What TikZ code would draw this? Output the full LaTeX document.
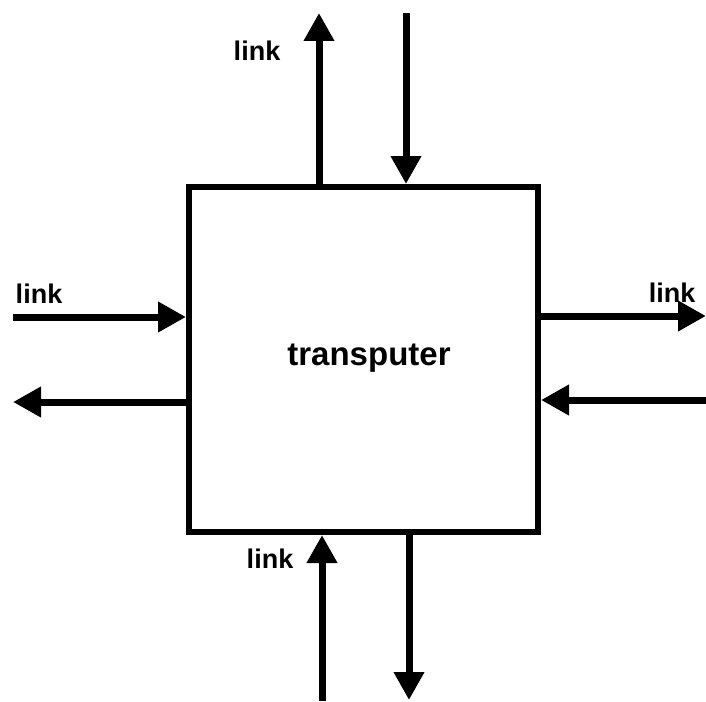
\documentclass[tikz,border=0pt]{standalone}
\usepackage{fontspec}
\setmainfont{Liberation Sans}
\usetikzlibrary{arrows.meta}
\begin{document}
\begin{tikzpicture}[x=1pt,y=-1pt,
  boxstyle/.style={draw,line width=6pt,minimum width=349pt,minimum height=345pt,inner sep=0pt},
  arr/.style={line width=7pt,-{Triangle[length=28pt,width=29pt]}},
  linklabel/.style={font=\fontsize{27}{27}\selectfont\bfseries,inner sep=0pt},
  mainlabel/.style={font=\fontsize{33}{33}\selectfont\bfseries,inner sep=0pt}]
\useasboundingbox (0,0) rectangle (706,701);
\node[boxstyle] (tp) at (363.5,359.5) {};
\node[mainlabel] (tx) at (369,358) {transputer};
% free ends
\coordinate (tu) at (319,13);
\coordinate (td) at (406,13);
\coordinate (li) at (13,317);
\coordinate (lo) at (13,402);
\coordinate (ro) at (706,316);
\coordinate (ri) at (706,400);
\coordinate (bu) at (322,701);
\coordinate (bd) at (409,700);
% arrows
\draw[arr] (tp.north -| tu) -- (tu);
\draw[arr] (td) -- (tp.north -| td);
\draw[arr] (li) -- (tp.west |- li);
\draw[arr] (tp.west |- lo) -- (lo);
\draw[arr] (tp.east |- ro) -- (ro);
\draw[arr] (ri) -- (tp.east |- ri);
\draw[arr] (bu) -- (tp.south -| bu);
\draw[arr] (tp.south -| bd) -- (bd);
% labels
\node[linklabel] (l1) at (257,51) {link};
\node[linklabel] (l2) at (39,294) {link};
\node[linklabel] (l3) at (672,293) {link};
\node[linklabel] (l4) at (270,559) {link};
\end{tikzpicture}
\end{document}
